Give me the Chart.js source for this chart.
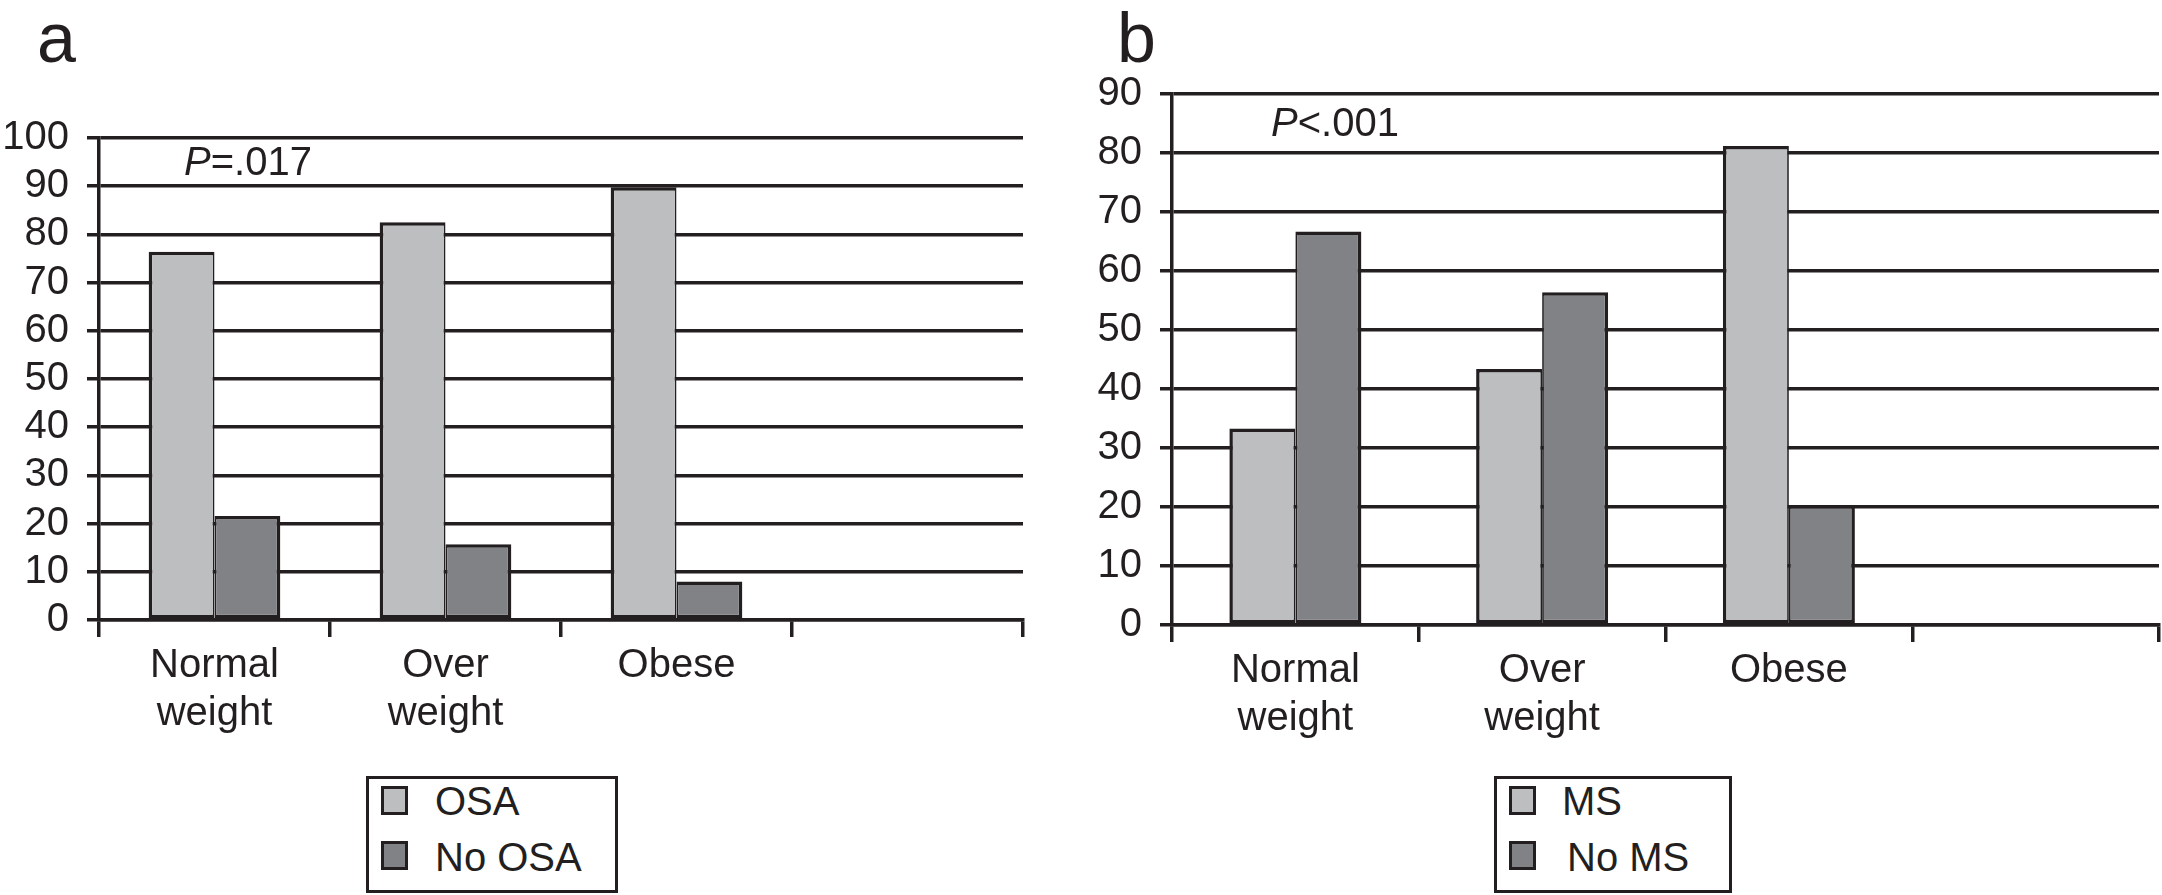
<!DOCTYPE html>
<html>
<head>
<meta charset="utf-8">
<script src="https://cdn.jsdelivr.net/npm/chart.js@4.4.1/dist/chart.umd.min.js"></script>
<style>
  body { margin:0; background:#fff; width:2162px; height:895px; position:relative; overflow:hidden;
         font-family:"Liberation Sans", Arial, sans-serif; color:#231f20; }
  .panel { position:absolute; top:0; width:1081px; height:895px; }
  .legend { position:absolute; border:3px solid #231f20; box-sizing:border-box; background:#fff; }
  .sw { position:absolute; box-sizing:border-box; border:3px solid #231f20; width:27px; height:29px; }
  .txt { position:absolute; font-size:40px; line-height:40px; white-space:nowrap; }
</style>
</head>
<body>
<div class="panel" style="left:0"><canvas id="chartA" width="1081" height="895"></canvas></div>
<div class="panel" style="left:1081px"><canvas id="chartB" width="1081" height="895"></canvas></div>
<div class="legend" id="legendA" style="left:366px;top:776px;width:252px;height:117px"></div>
<div class="legend" id="legendB" style="left:1494px;top:776px;width:238px;height:117px"></div>
<script>
// data (percent)
const categories = [['Normal', 'weight'], ['Over', 'weight'], 'Obese', ''];
const osa   = [76.4, 82.5, 89.8, null];
const noOsa = [21.6, 15.7, 8.0, null];
const ms    = [33.3, 43.4, 81.2, null];
const noMs  = [66.7, 56.4, 20.3, null];
const seriesA = ['OSA', 'No OSA'];
const seriesB = ['MS', 'No MS'];
const yMaxA = 100, yMaxB = 90, yStep = 10;

const INK = '#231f20';
const LIGHT = '#bcbec0';
const DARK = '#808285';
const FONT = '"Liberation Sans", Arial, sans-serif';
const LW = 3.5;

// panel letter + P value
const notes = {
  id: 'notes',
  afterDraw(chart, args, o) {
    const ctx = chart.ctx;
    ctx.save();
    ctx.fillStyle = INK;
    ctx.textBaseline = 'alphabetic';
    ctx.font = '70px ' + FONT;
    ctx.fillText(o.letter, o.letterX, 62);
    ctx.font = 'italic 40px ' + FONT;
    ctx.fillText('P', o.px, o.py);
    const w = ctx.measureText('P').width;
    ctx.font = '40px ' + FONT;
    ctx.fillText(o.rest, o.px + w, o.py);
    ctx.restore();
  }
};

function makeChart(id, names, first, second, yMax, cat, pad, yWidth, note) {
  const ctx = document.getElementById(id).getContext('2d');
  return new Chart(ctx, {
    type: 'bar',
    plugins: [notes],
    data: {
      labels: categories,
      datasets: [
        { label: names[0], data: first, backgroundColor: LIGHT, borderColor: INK,
          borderWidth: { top: LW, left: LW, bottom: LW, right: LW / 2 }, borderSkipped: false },
        { label: names[1], data: second, backgroundColor: DARK, borderColor: INK,
          borderWidth: { top: LW, left: LW / 2, bottom: LW, right: LW }, borderSkipped: false }
      ]
    },
    options: {
      responsive: false,
      animation: false,
      layout: { padding: pad },
      datasets: { bar: { categoryPercentage: cat, barPercentage: 1.0 } },
      plugins: { legend: { display: false }, tooltip: { enabled: false }, notes: note },
      scales: {
        x: {
          grid: { offset: true, drawOnChartArea: false, tickLength: 17, lineWidth: LW, color: INK },
          border: { display: true, width: LW, color: INK },
          ticks: { color: INK, font: { family: FONT, size: 40, lineHeight: 1.2 }, padding: 5, maxRotation: 0 },
          afterFit: s => { s.height = 150; }
        },
        y: {
          min: 0, max: yMax,
          grid: { tickLength: 12, lineWidth: LW, color: INK },
          border: { display: true, width: LW, color: INK },
          ticks: { stepSize: yStep, autoSkip: false, color: INK, font: { family: FONT, size: 40 }, padding: 18 },
          afterFit: s => { s.width = yWidth; }
        }
      }
    }
  });
}

makeChart('chartA', seriesA, osa, noOsa, yMaxA, 0.57,
  { left: 0, right: 58, top: 138, bottom: 125 }, 99,
  { letter: 'a', letterX: 37, px: 184, py: 175, rest: '=.017' });
makeChart('chartB', seriesB, ms, noMs, yMaxB, 0.535,
  { left: 0, right: 3, top: 94, bottom: 120 }, 91,
  { letter: 'b', letterX: 36, px: 190, py: 136, rest: '<.001' });

// boxed legends
function legend(id, names, textLeft) {
  const box = document.getElementById(id);
  const fills = [LIGHT, DARK];
  names.forEach((n, i) => {
    const sw = document.createElement('div');
    sw.className = 'sw';
    sw.style.left = '12px';
    sw.style.top = (7 + i * 55) + 'px';
    sw.style.background = fills[i];
    box.appendChild(sw);
    const t = document.createElement('div');
    t.className = 'txt';
    t.style.left = textLeft[i] + 'px';
    t.style.top = (2 + i * 56) + 'px';
    t.textContent = n;
    box.appendChild(t);
  });
}
legend('legendA', seriesA, [66, 66]);
legend('legendB', seriesB, [65, 70]);
</script>
</body>
</html>
